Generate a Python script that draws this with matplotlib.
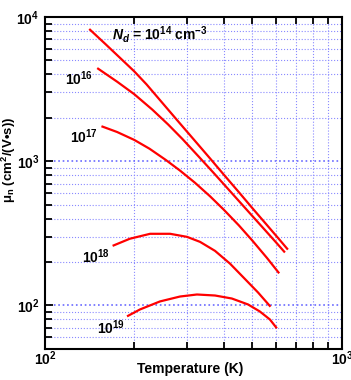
import matplotlib
matplotlib.use("Agg")
import matplotlib.pyplot as plt
from matplotlib.ticker import FixedLocator, FixedFormatter, NullFormatter

plt.rcParams['font.family'] = ['Liberation Sans', 'DejaVu Sans']
plt.rcParams['mathtext.fontset'] = 'custom'
plt.rcParams['mathtext.default'] = 'regular'
plt.rcParams['mathtext.it'] = 'Liberation Sans:italic:bold'

# electron mobility vs temperature
T_14 = [141, 160, 180, 200, 220, 250, 285, 320, 360, 400, 450, 500, 560, 620, 658]
mu_14 = [8270, 6490, 5160, 4200, 3410, 2506, 1828, 1386, 1045, 809, 610, 472, 360, 282, 244]

T_16 = [150, 175, 200, 230, 260, 290, 330, 370, 420, 480, 540, 600, 643]
mu_16 = [4430, 3565, 2917, 2281, 1799, 1432, 1074, 830, 621, 457, 349, 274, 233]

T_17 = [155, 175, 200, 225, 255, 285, 320, 360, 400, 450, 500, 560, 615]
mu_17 = [1750, 1596, 1406, 1222, 1023, 862, 710, 571, 462, 359, 281, 213, 167]

T_18 = [169, 193, 226, 264, 301, 333, 374, 420, 471, 522, 575]
mu_18 = [259, 290, 314, 314, 299, 276, 239, 195, 153, 123, 98]

T_19 = [189, 209, 244, 285, 325, 374, 426, 483, 529, 572, 604]
mu_19 = [84, 93.8, 106.6, 115.3, 119.1, 117.2, 111.7, 101.6, 90.9, 80, 69.4]

curves = [(T_14, mu_14), (T_16, mu_16), (T_17, mu_17), (T_18, mu_18), (T_19, mu_19)]

x_ticks = [100, 1000]
x_labels = ['$10^{2}$', '$10^{3}$']
y_ticks = [100, 1000, 10000]
y_labels = ['$10^{2}$', '$10^{3}$', '$10^{4}$']

fig = plt.figure(figsize=(3.51, 3.80), dpi=100)
ax = fig.add_axes([0.128, 0.082, 0.846, 0.873])

for T, mu in curves:
    ax.plot(T, mu, color='red', lw=1.6, solid_capstyle='butt')

ax.set_xscale('log')
ax.set_yscale('log')
ax.set_xlim(100, 1000)
ax.set_ylim(50, 10000)

ax.xaxis.set_major_locator(FixedLocator(x_ticks))
ax.xaxis.set_major_formatter(FixedFormatter(x_labels))
ax.xaxis.set_minor_locator(FixedLocator([m * 100 for m in range(2, 10)]))
ax.xaxis.set_minor_formatter(NullFormatter())
ax.yaxis.set_major_locator(FixedLocator(y_ticks))
ax.yaxis.set_major_formatter(FixedFormatter(y_labels))
ax.yaxis.set_minor_locator(FixedLocator([60, 70, 80, 90] +
                                        [m * 100 for m in range(2, 10)] +
                                        [m * 1000 for m in range(2, 10)]))
ax.yaxis.set_minor_formatter(NullFormatter())

ax.tick_params(which='both', direction='in', top=True, right=False,
               width=1.3, labelsize=10)
ax.tick_params(which='major', length=6)
ax.tick_params(which='minor', length=5)
ax.tick_params(axis='x', which='major', pad=0.5)
ax.tick_params(axis='y', which='major', pad=4)
for lab in ax.get_xticklabels() + ax.get_yticklabels():
    lab.set_fontweight('bold')

ax.grid(True, which='major', color='#6a6aff', ls=':', lw=1.2)
ax.grid(True, which='minor', color='#8a8aff', ls=':', lw=0.8)
ax.set_axisbelow(True)

for s in ax.spines.values():
    s.set_linewidth(1.5)

ax.set_xlabel('Temperature (K)', fontsize=10, fontweight='bold')
ax.xaxis.set_label_coords(0.49, -0.04)
ax.set_ylabel('$\\mu_n$ (cm$^{2}$/(V\u2022s))', fontsize=9.5, fontweight='bold')
ax.yaxis.set_label_coords(-0.09, 0.57)

ax.text(168, 7520, '$\\mathit{N}_{\\mathit{d}}$ = 10$^{14}$ cm$^{-3}$',
        fontsize=10, fontweight='bold', ha='left', va='center')
ax.text(117, 3735, '10$^{16}$', fontsize=10, fontweight='bold', ha='left', va='center')
ax.text(121, 1486, '10$^{17}$', fontsize=10, fontweight='bold', ha='left', va='center')
ax.text(133, 218, '10$^{18}$', fontsize=10, fontweight='bold', ha='left', va='center')
ax.text(150, 70.5, '10$^{19}$', fontsize=10, fontweight='bold', ha='left', va='center')

fig.savefig('out.png', dpi=100)
